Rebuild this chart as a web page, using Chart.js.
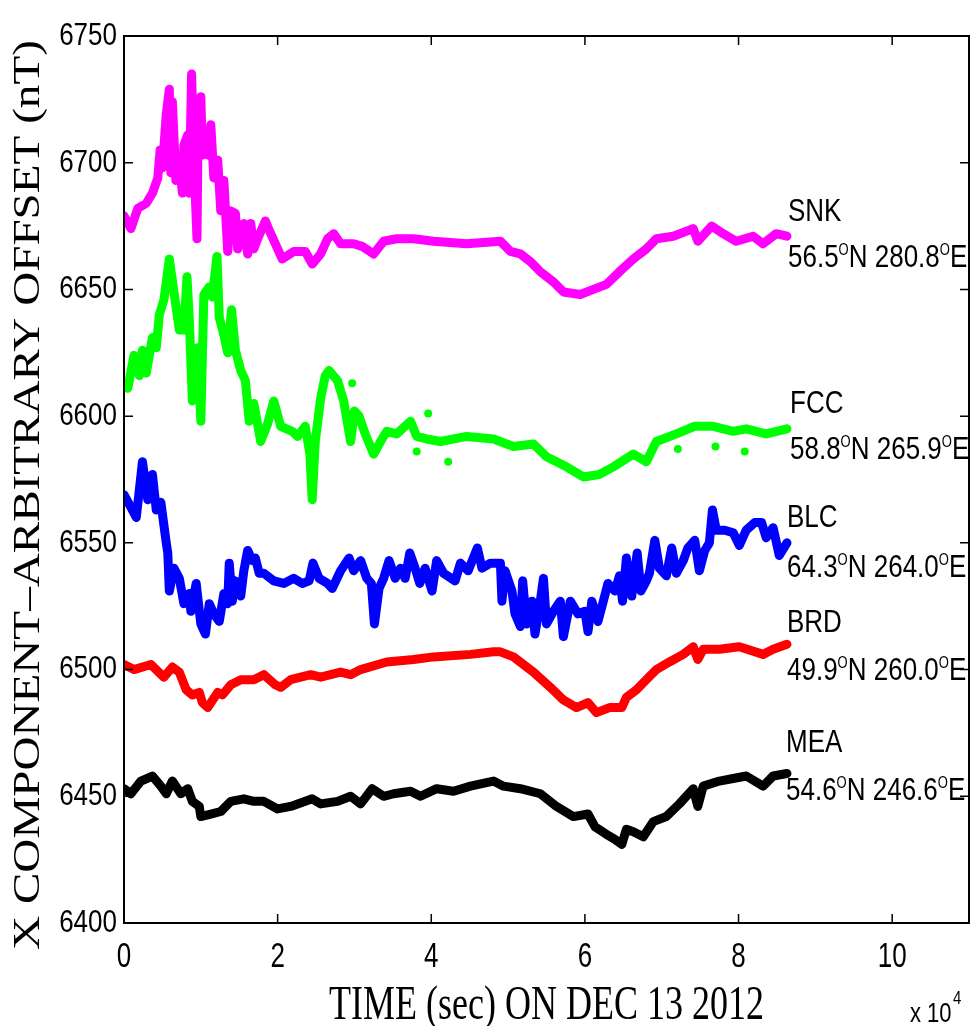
<!DOCTYPE html>
<html lang="en">
<head>
    <meta charset="UTF-8">
    <title>X component - Dec 13 2012</title>
    <script src="https://cdn.jsdelivr.net/npm/chart.js"></script>
    <style>
        html, body { margin: 0; padding: 0; background: #fff; }
        #wrap { width: 973px; height: 1026px; position: relative; }
    </style>
</head>
<body>
    <div id="wrap"><canvas id="magChart"></canvas></div>

    <script>
        // time in units of 10^4 s, values in nT (with offset)
        const snkTime = [0, 0.09, 0.18, 0.29, 0.37, 0.44, 0.47, 0.50, 0.55, 0.59, 0.61, 0.63, 0.675, 0.72, 0.76, 0.78, 0.83, 0.85, 0.88, 0.91, 0.95, 0.965, 1.0, 1.02, 1.06, 1.10, 1.13, 1.17, 1.22, 1.26, 1.30, 1.35, 1.39, 1.45, 1.48, 1.56, 1.61, 1.65, 1.69, 1.74, 1.84, 1.91, 2.0, 2.06, 2.21, 2.36, 2.45, 2.56, 2.65, 2.73, 2.82, 2.99, 3.1, 3.25, 3.38, 3.55, 3.77, 4.03, 4.46, 4.9, 5.03, 5.16, 5.29, 5.42, 5.59, 5.72, 5.94, 6.11, 6.28, 6.45, 6.63, 6.80, 6.93, 7.15, 7.41, 7.47, 7.65, 7.80, 7.97, 8.19, 8.32, 8.49, 8.63];
        const snkValue = [6679, 6674, 6682, 6684, 6688, 6694, 6705, 6698, 6719, 6729, 6696, 6724, 6693, 6700, 6688, 6707, 6711, 6688, 6735, 6701, 6670, 6714, 6726, 6703, 6712, 6703, 6715, 6694, 6701, 6681, 6693, 6665, 6681, 6680, 6666, 6676, 6664, 6676, 6666, 6670, 6677, 6672, 6666, 6662, 6665, 6665, 6660, 6664, 6670, 6672, 6668, 6668, 6667, 6664, 6669, 6670, 6670, 6669, 6668, 6669, 6665, 6664, 6661, 6657, 6653, 6649, 6648, 6650, 6652, 6657, 6662, 6666, 6670, 6671, 6674, 6669, 6675, 6672, 6669, 6671, 6668, 6672, 6671];

        const fccTime = [0, 0.05, 0.13, 0.2, 0.24, 0.29, 0.37, 0.42, 0.46, 0.52, 0.59, 0.65, 0.72, 0.78, 0.82, 0.85, 0.89, 0.93, 0.96, 1.0, 1.04, 1.11, 1.15, 1.21, 1.24, 1.30, 1.35, 1.40, 1.45, 1.52, 1.58, 1.63, 1.69, 1.78, 1.87, 1.95, 2.04, 2.19, 2.26, 2.36, 2.42, 2.45, 2.49, 2.56, 2.62, 2.67, 2.78, 2.86, 2.95, 3.0, 3.06, 3.14, 3.25, 3.34, 3.42, 3.55, 3.73, 3.81, 3.94, 4.12, 4.46, 4.81, 5.07, 5.33, 5.50, 5.76, 5.98, 6.19, 6.37, 6.63, 6.80, 6.93, 7.19, 7.43, 7.67, 7.93, 8.10, 8.36, 8.63];
        const fccValue = [6613, 6611, 6624, 6616, 6626, 6617, 6631, 6627, 6640, 6646, 6662, 6649, 6634, 6634, 6655, 6638, 6606, 6614, 6627, 6598, 6648, 6651, 6647, 6663, 6639, 6632, 6625, 6642, 6626, 6618, 6614, 6598, 6605, 6590, 6597, 6606, 6596, 6594, 6592, 6596, 6585, 6567, 6590, 6607, 6616, 6618, 6614, 6606, 6590, 6602, 6600, 6593, 6585, 6590, 6594, 6593, 6598, 6592, 6591, 6590, 6592, 6591, 6588, 6589, 6584, 6580, 6576, 6577, 6580, 6585, 6582, 6590, 6593, 6596, 6596, 6594, 6595, 6593, 6595];
        // isolated FCC samples off the trace
        const fccSpikeTime = [2.97, 3.81, 3.96, 4.22, 7.21, 7.70, 8.08];
        const fccSpikeValue = [6613, 6586, 6601, 6582, 6587, 6588, 6586];

        const blcTime = [0, 0.09, 0.16, 0.2, 0.24, 0.31, 0.37, 0.42, 0.48, 0.55, 0.57, 0.59, 0.65, 0.72, 0.78, 0.85, 0.87, 0.94, 1.0, 1.06, 1.11, 1.17, 1.24, 1.30, 1.35, 1.37, 1.41, 1.45, 1.52, 1.56, 1.61, 1.67, 1.71, 1.76, 1.82, 1.95, 2.08, 2.21, 2.32, 2.41, 2.46, 2.54, 2.65, 2.71, 2.82, 2.93, 2.99, 3.08, 3.16, 3.22, 3.26, 3.32, 3.38, 3.45, 3.53, 3.60, 3.66, 3.72, 3.79, 3.85, 3.92, 4.01, 4.07, 4.16, 4.31, 4.38, 4.48, 4.60, 4.66, 4.77, 4.90, 4.92, 4.96, 5.05, 5.09, 5.16, 5.19, 5.24, 5.31, 5.35, 5.41, 5.46, 5.50, 5.59, 5.68, 5.72, 5.81, 5.91, 6.0, 6.04, 6.09, 6.17, 6.24, 6.30, 6.39, 6.45, 6.49, 6.54, 6.61, 6.68, 6.73, 6.80, 6.84, 6.91, 6.97, 7.06, 7.13, 7.19, 7.28, 7.34, 7.43, 7.49, 7.56, 7.62, 7.66, 7.71, 7.82, 7.93, 8.01, 8.10, 8.21, 8.30, 8.36, 8.45, 8.53, 8.63];
        const blcValue = [6569, 6564, 6560, 6571, 6582, 6567, 6577, 6563, 6566, 6550, 6546, 6531, 6540, 6536, 6526, 6530, 6523, 6534, 6518, 6514, 6526, 6522, 6519, 6530, 6526, 6542, 6527, 6535, 6529, 6539, 6547, 6543, 6544, 6538, 6538, 6535, 6534, 6536, 6534, 6535, 6542, 6536, 6534, 6532, 6539, 6544, 6539, 6543, 6536, 6534, 6518, 6532, 6536, 6543, 6536, 6540, 6536, 6546, 6540, 6534, 6540, 6531, 6543, 6538, 6535, 6542, 6539, 6548, 6540, 6542, 6542, 6527, 6539, 6531, 6522, 6517, 6535, 6518, 6527, 6514, 6525, 6536, 6518, 6523, 6527, 6513, 6527, 6522, 6523, 6515, 6527, 6519, 6527, 6534, 6531, 6537, 6527, 6544, 6529, 6546, 6531, 6535, 6538, 6551, 6540, 6537, 6548, 6538, 6543, 6548, 6551, 6539, 6547, 6550, 6563, 6555, 6555, 6554, 6549, 6555, 6558, 6558, 6552, 6556, 6545, 6550];

        const brdTime = [0, 0.13, 0.35, 0.52, 0.63, 0.72, 0.81, 0.89, 0.98, 1.02, 1.09, 1.22, 1.28, 1.39, 1.52, 1.69, 1.82, 1.97, 2.04, 2.17, 2.43, 2.56, 2.82, 2.95, 3.08, 3.42, 3.77, 4.03, 4.51, 4.81, 4.9, 5.07, 5.33, 5.55, 5.72, 5.89, 6.04, 6.15, 6.32, 6.48, 6.54, 6.67, 6.80, 6.93, 7.10, 7.28, 7.41, 7.47, 7.54, 7.75, 8.01, 8.32, 8.45, 8.63];
        const brdValue = [6502, 6500, 6502, 6497, 6501, 6499, 6492, 6490, 6491, 6487, 6485, 6491, 6490, 6494, 6496, 6496, 6498, 6494, 6493, 6496, 6498, 6497, 6499, 6498, 6500, 6503, 6504, 6505, 6506, 6507, 6507, 6505, 6499, 6493, 6488, 6485, 6487, 6483, 6485, 6485, 6489, 6492, 6496, 6500, 6503, 6506, 6509, 6504, 6508, 6508, 6509, 6506, 6508, 6510];

        const meaTime = [0, 0.09, 0.22, 0.37, 0.48, 0.55, 0.63, 0.74, 0.83, 0.89, 0.98, 1.0, 1.13, 1.26, 1.39, 1.56, 1.69, 1.82, 2.0, 2.17, 2.45, 2.56, 2.78, 2.95, 3.08, 3.23, 3.38, 3.51, 3.73, 3.86, 4.07, 4.29, 4.51, 4.81, 4.94, 5.16, 5.42, 5.63, 5.85, 6.04, 6.13, 6.28, 6.39, 6.48, 6.54, 6.63, 6.76, 6.89, 7.06, 7.23, 7.41, 7.47, 7.54, 7.75, 7.93, 8.10, 8.32, 8.45, 8.63];
        const meaValue = [6453, 6451, 6456, 6458, 6454, 6451, 6456, 6451, 6453, 6448, 6446, 6442, 6443, 6444, 6448, 6449, 6448, 6448, 6445, 6446, 6449, 6447, 6448, 6450, 6447, 6453, 6450, 6451, 6452, 6450, 6453, 6452, 6454, 6456, 6454, 6453, 6451, 6446, 6442, 6443, 6438, 6435, 6433, 6431, 6437, 6436, 6434, 6440, 6442, 6447, 6453, 6446, 6454, 6456, 6457, 6458, 6454, 6458, 6459];

        const xTicks = [0, 2, 4, 6, 8, 10];
        const yTicks = [6400, 6450, 6500, 6550, 6600, 6650, 6700, 6750];

        // station labels: name, latitude, longitude
        const stationNames = ['SNK', 'FCC', 'BLC', 'BRD', 'MEA'];
        const stationLat = ['56.5', '58.8', '64.3', '49.9', '54.6'];
        const stationLon = ['280.8', '265.9', '264.0', '260.0', '246.6'];

        const SY = 1.24; // the original figure is stretched vertically
        const SANS = "'Liberation Sans', Arial, sans-serif";
        const SERIF = "'Liberation Serif', 'Times New Roman', serif";

        const toPoints = (t, v) => t.map((x, i) => ({ x: x, y: v[i] }));

        function trace(label, t, v, color) {
            return {
                label: label,
                data: toPoints(t, v),
                showLine: true,
                borderColor: color,
                backgroundColor: color,
                borderWidth: 9,
                pointRadius: 0,
                borderJoinStyle: 'round',
                borderCapStyle: 'round',
                tension: 0
            };
        }

        // text with a vertical stretch, like the reference
        function tallText(ctx, str, x, y, font, align, base, sy) {
            ctx.save();
            ctx.translate(x, y);
            ctx.scale(1, sy || SY);
            ctx.font = font;
            ctx.textAlign = align || 'left';
            ctx.textBaseline = base || 'alphabetic';
            ctx.fillText(str, 0, 0);
            ctx.restore();
        }

        // "56.5^oN 280.8^oE"
        function coordText(ctx, lat, lon, x, y) {
            const big = '26px ' + SANS;
            const small = '13px ' + SANS;
            const parts = [[lat, big, 0], ['O', small, -9.5], ['N ' + lon, big, 0], ['O', small, -9.5], ['E', big, 0]];
            ctx.save();
            ctx.translate(x, y);
            ctx.scale(1, SY);
            ctx.textBaseline = 'alphabetic';
            ctx.textAlign = 'left';
            let cx = 0;
            parts.forEach(p => {
                ctx.font = p[1];
                ctx.fillText(p[0], cx, p[2]);
                cx += ctx.measureText(p[0]).width;
            });
            ctx.restore();
        }

        const framePlugin = {
            id: 'frame',
            afterDraw(chart) {
                const ctx = chart.ctx;
                const a = chart.chartArea;
                const xs = chart.scales.x;
                const ys = chart.scales.y;
                ctx.save();
                ctx.fillStyle = '#000';
                ctx.strokeStyle = '#000';

                // box
                ctx.lineWidth = 2;
                ctx.strokeRect(a.left, a.top, a.right - a.left, a.bottom - a.top);

                // inward ticks on all four sides
                ctx.lineWidth = 1.5;
                ctx.beginPath();
                yTicks.forEach(v => {
                    const py = ys.getPixelForValue(v);
                    ctx.moveTo(a.left, py); ctx.lineTo(a.left + 9, py);
                    ctx.moveTo(a.right, py); ctx.lineTo(a.right - 9, py);
                });
                xTicks.forEach(v => {
                    const px = xs.getPixelForValue(v);
                    ctx.moveTo(px, a.bottom); ctx.lineTo(px, a.bottom - 9);
                    ctx.moveTo(px, a.top); ctx.lineTo(px, a.top + 9);
                });
                ctx.stroke();

                // tick labels
                yTicks.forEach(v => {
                    tallText(ctx, String(v), a.left - 7, ys.getPixelForValue(v), '26px ' + SANS, 'right', 'middle');
                });
                xTicks.forEach(v => {
                    tallText(ctx, String(v), xs.getPixelForValue(v), 967, '26px ' + SANS, 'center', 'alphabetic', 1.35);
                });

                // x 10^4
                tallText(ctx, 'x 10', 910, 1022, '22px ' + SANS, 'left');
                tallText(ctx, '4', 953, 1004, '15px ' + SANS, 'left');

                // axis titles
                tallText(ctx, 'TIME (sec) ON DEC 13 2012', (a.left + a.right) / 2, 1019, '36px ' + SERIF, 'center', 'alphabetic', 1.35);
                ctx.save();
                ctx.translate(29, 495);
                ctx.rotate(-Math.PI / 2);
                ctx.scale(SY, 1);
                ctx.font = '38px ' + SERIF;
                ctx.textAlign = 'center';
                ctx.textBaseline = 'middle';
                ctx.fillText('X COMPONENT\u2013ARBITRARY OFFSET (nT)', 0, 0);
                ctx.restore();

                // station labels next to the traces
                const nameX = [788, 790, 787, 787, 786];
                const nameY = [221, 413, 527, 632, 752];
                const coordY = [267, 459, 577, 680, 800];
                stationNames.forEach((n, i) => {
                    tallText(ctx, n, nameX[i], nameY[i], '26px ' + SANS, 'left');
                    coordText(ctx, stationLat[i], stationLon[i], nameX[i], coordY[i]);
                });
                ctx.restore();
            }
        };

        new Chart(document.getElementById('magChart'), {
            type: 'scatter',
            data: {
                datasets: [
                    trace('SNK', snkTime, snkValue, '#ff00ff'),
                    trace('FCC', fccTime, fccValue, '#00ff00'),
                    {
                        label: 'FCC spikes',
                        data: toPoints(fccSpikeTime, fccSpikeValue),
                        showLine: false,
                        pointRadius: 4,
                        pointBorderWidth: 0,
                        backgroundColor: '#00ff00',
                        borderColor: '#00ff00'
                    },
                    trace('BLC', blcTime, blcValue, '#0000ff'),
                    trace('BRD', brdTime, brdValue, '#ff0000'),
                    trace('MEA', meaTime, meaValue, '#000000')
                ]
            },
            options: {
                responsive: true,
                maintainAspectRatio: false,
                animation: false,
                layout: { padding: { left: 124, right: 3, top: 36, bottom: 103 } },
                plugins: { legend: { display: false }, tooltip: { enabled: false } },
                scales: {
                    x: { type: 'linear', min: 0, max: 11, display: false },
                    y: { type: 'linear', min: 6400, max: 6750, display: false }
                }
            },
            plugins: [framePlugin]
        });
    </script>
</body>
</html>
